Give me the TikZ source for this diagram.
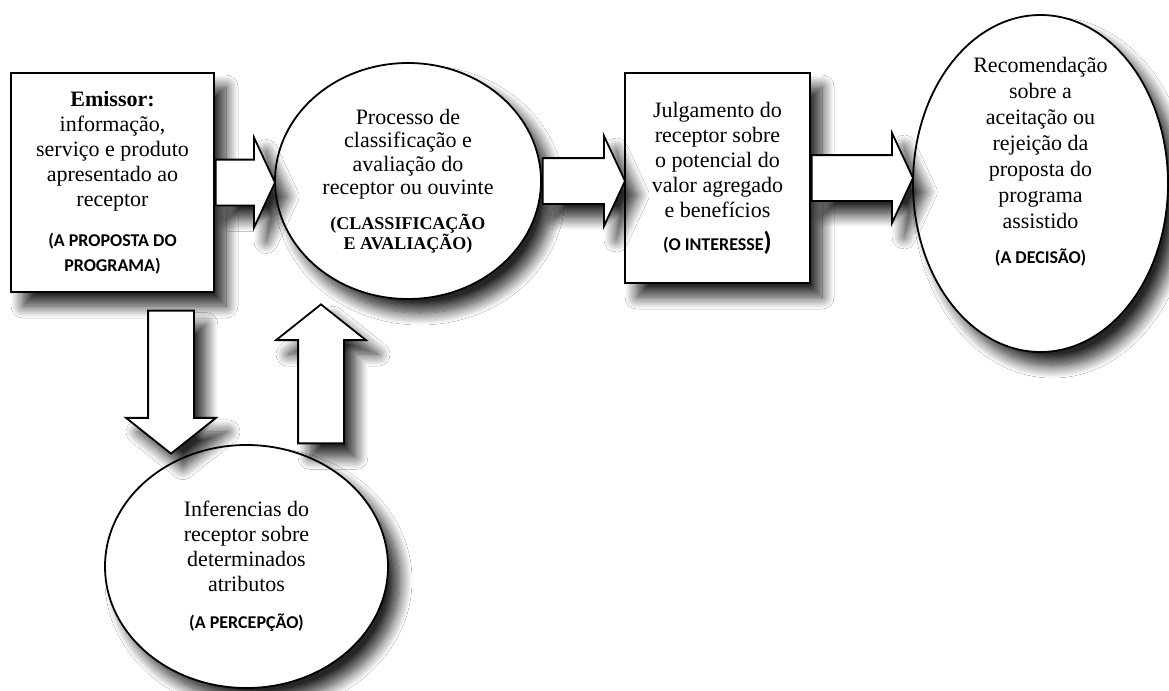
\documentclass[tikz,border=0pt]{standalone}
\usepackage{fontspec}
\setmainfont{Liberation Serif}
\newfontfamily\labelfont{Carlito}
\usetikzlibrary{positioning}
\usetikzlibrary{shapes.geometric, shapes.arrows}
\usetikzlibrary{shadows.blur, calc}

\newcommand{\rotulo}[1]{{\labelfont\bfseries\fontsize{9}{12.5}\selectfont #1}}
\newcommand{\rotuloserif}[1]{{\bfseries\fontsize{9}{10}\selectfont #1}}

\begin{document}
\begin{tikzpicture}[x=0.5pt, y=-0.5pt,
		sombra/.style={blur shadow={shadow xshift=6pt, shadow yshift=-7pt,
			shadow blur radius=6pt, shadow opacity=85, shadow blur steps=14}},
		caixa/.style={
			draw,
			rectangle,
			fill=white,
			line width=0.9pt,
			align=center,
			inner sep=0pt,
			font=\fontsize{11}{12.5}\selectfont,
			sombra
		},
		bola/.style={
			draw,
			ellipse,
			fill=white,
			line width=0.9pt,
			align=center,
			inner sep=0pt,
			font=\fontsize{11}{12.5}\selectfont,
			sombra
		},
		seta/.style={
			draw,
			single arrow,
			fill=white,
			line width=0.9pt,
			single arrow head extend=11pt,
			sombra
		},
		setah/.style={seta, inner xsep=0pt, inner ysep=11pt, single arrow tip angle=130},
		setav/.style={seta, inner xsep=11pt, inner ysep=0pt, single arrow tip angle=103}]
	\path[use as bounding box, fill=white] (0,0) rectangle (1169,691);

	% blocos
	\node[caixa, minimum width=101.5pt, minimum height=109.5pt] (emissor) at (112.5,182.5)
		{\textbf{Emissor:}\\ informação,\\ serviço e produto\\ apresentado ao\\ receptor\\[7.5pt]
		 \rotulo{(A PROPOSTA DO}\\ \rotulo{PROGRAMA)}};
	\node[bola, minimum width=133pt, minimum height=118pt,
		font=\fontsize{11}{11.8}\selectfont] (processo) at (408,181)
		{Processo de\\ classificação e\\ avaliação do\\ receptor ou ouvinte\\[5.5pt]
		 \rotuloserif{(CLASSIFICAÇÃO}\\[-1.8pt] \rotuloserif{E AVALIAÇÃO)}};
	\node[caixa, minimum width=92.5pt, minimum height=105pt] (julgamento) at (717.5,178)
		{Julgamento do\\ receptor sobre\\ o potencial do\\ valor agregado\\ e benefícios\\[4pt]
		 \rotulo{(O INTERESSE{\fontsize{13}{13}\selectfont)}}};
	\node[bola, minimum width=127.5pt, minimum height=168.5pt] (decisao) at (1040.5,183.5) {};
	\node[align=center, font=\fontsize{11}{13}\selectfont] (decisaotxt) at ([yshift=11pt]decisao.center)
		{Recomendação\\ sobre a\\ aceitação ou\\ rejeição da\\ proposta do\\ programa\\ assistido\\[4.5pt]
		 \rotulo{(A DECISÃO)}};
	\node[bola, minimum width=141.5pt, minimum height=121.5pt] (percepcao) at (246.5,566.5)
		{Inferencias do\\ receptor sobre\\ determinados\\ atributos\\[6pt]
		 \rotulo{(A PERCEPÇÃO)}};

	% setas
	\path let \p1=(emissor.east), \p2=(processo.west) in
		node[setah, minimum height={\x2-\x1}, anchor=tail] (setaA) at (\p1) {};
	\path let \p1=(processo.east), \p2=(julgamento.west) in
		node[setah, minimum height={\x2-\x1}, anchor=tail] (setaB) at (\p1) {};
	\path let \p1=(julgamento.east), \p2=(decisao.west) in
		node[setah, minimum height={\x2-\x1}, anchor=tail] (setaC) at (\p1) {};
	\node[setav, shape border rotate=270, minimum height=71.5pt] (setaD) at (171,373) {};
	\node[setav, shape border rotate=90, minimum height=69.5pt] (setaE) at (321,383) {};
\end{tikzpicture}
\end{document}
